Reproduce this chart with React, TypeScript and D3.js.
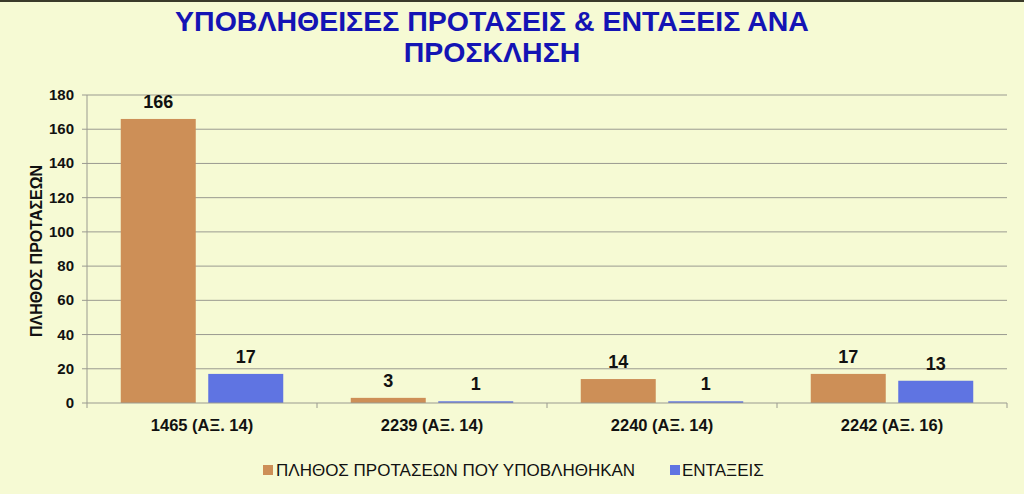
import React from "react";
import * as d3 from "d3";

const categories = ["1465 (ΑΞ. 14)", "2239 (ΑΞ. 14)", "2240 (ΑΞ. 14)", "2242 (ΑΞ. 16)"];
const submitted = [166, 3, 14, 17];
const approved = [17, 1, 1, 13];
const seriesNames = ["ΠΛΗΘΟΣ ΠΡΟΤΑΣΕΩΝ ΠΟΥ ΥΠΟΒΛΗΘΗΚΑΝ", "ΕΝΤΑΞΕΙΣ"];
const yTicks = [0, 20, 40, 60, 80, 100, 120, 140, 160, 180];
const titleLines = ["ΥΠΟΒΛΗΘΕΙΣΕΣ ΠΡΟΤΑΣΕΙΣ & ΕΝΤΑΞΕΙΣ ΑΝΑ", "ΠΡΟΣΚΛΗΣΗ"];
const yTitle = "ΠΛΗΘΟΣ ΠΡΟΤΑΣΕΩΝ";

const W = 1024;
const H = 494;
const colors = ["#CD8F57", "#5F74E2"];
const font = "Liberation Sans, Arial, sans-serif";

export default function App() {
  const left = 87, right = 1007, top = 95, bottom = 403;
  const x = d3.scaleBand().domain(categories).range([left, right]).paddingInner(0).paddingOuter(0);
  const y = d3.scaleLinear().domain([0, 180]).range([bottom, top]);
  const bw = x.bandwidth();
  const barW = 75;
  const gap = 12.5;
  const series = [submitted, approved];

  return (
    <svg width={W} height={H} style={{ position: "fixed", left: 0, top: 0, display: "block" }}>
      <rect x={0} y={0} width={W} height={H} fill="#F6FAD4" />
      <rect x={0} y={0} width={W} height={2} fill="#3a3a2a" />
      {titleLines.map((t, i) => (
        <text key={i} x={492} y={31 + i * 31} textAnchor="middle" fontFamily={font} fontWeight="bold"
          fontSize={28.5} fill="#1414B4">{t}</text>
      ))}
      {yTicks.map((t) => (
        <g key={t}>
          {t > 0 && <line x1={left} x2={right} y1={y(t)} y2={y(t)} stroke="#9a9a90" strokeWidth={1} />}
          <line x1={left - 5} x2={left} y1={y(t)} y2={y(t)} stroke="#9a9a90" />
          <text x={74} y={y(t) + 5} textAnchor="end" fontFamily={font} fontWeight="bold" fontSize={15} fill="#111">{t}</text>
        </g>
      ))}
      <line x1={left} x2={left} y1={top} y2={bottom} stroke="#9a9a90" />
      {categories.map((c, ci) => {
        const x0 = (x(c) as number) + bw / 2 - barW - gap / 2;
        return (
          <g key={c}>
            {series.map((s, si) => {
              const bx = x0 + si * (barW + gap);
              return (
                <g key={si}>
                  <rect x={bx} y={y(s[ci])} width={barW} height={bottom - y(s[ci])} fill={colors[si]} />
                  <text x={bx + barW / 2} y={y(s[ci]) - 11} textAnchor="middle" fontFamily={font}
                    fontWeight="bold" fontSize={18} fill="#111">{s[ci]}</text>
                </g>
              );
            })}
            <text x={(x(c) as number) + bw / 2} y={431} textAnchor="middle" fontFamily={font}
              fontWeight="bold" fontSize={16.5} fill="#111">{c}</text>
          </g>
        );
      })}
      <line x1={left} x2={right} y1={bottom} y2={bottom} stroke="#9a9a90" />
      {[...categories.map((c) => x(c) as number), right].map((tx, i) => (
        <line key={i} x1={tx} x2={tx} y1={bottom} y2={bottom + 5} stroke="#9a9a90" />
      ))}
      <text transform={`translate(42,251) rotate(-90)`} textAnchor="middle" fontFamily={font}
        fontWeight="bold" fontSize={16} fill="#111">{yTitle}</text>
      <g>
        <rect x={263} y={465} width={10} height={10} fill={colors[0]} />
        <text x={276} y={476} fontFamily={font} fontSize={17} fill="#111">{seriesNames[0]}</text>
        <rect x={670} y={465} width={10} height={10} fill={colors[1]} />
        <text x={682} y={476} fontFamily={font} fontSize={17} fill="#111">{seriesNames[1]}</text>
      </g>
    </svg>
  );
}
